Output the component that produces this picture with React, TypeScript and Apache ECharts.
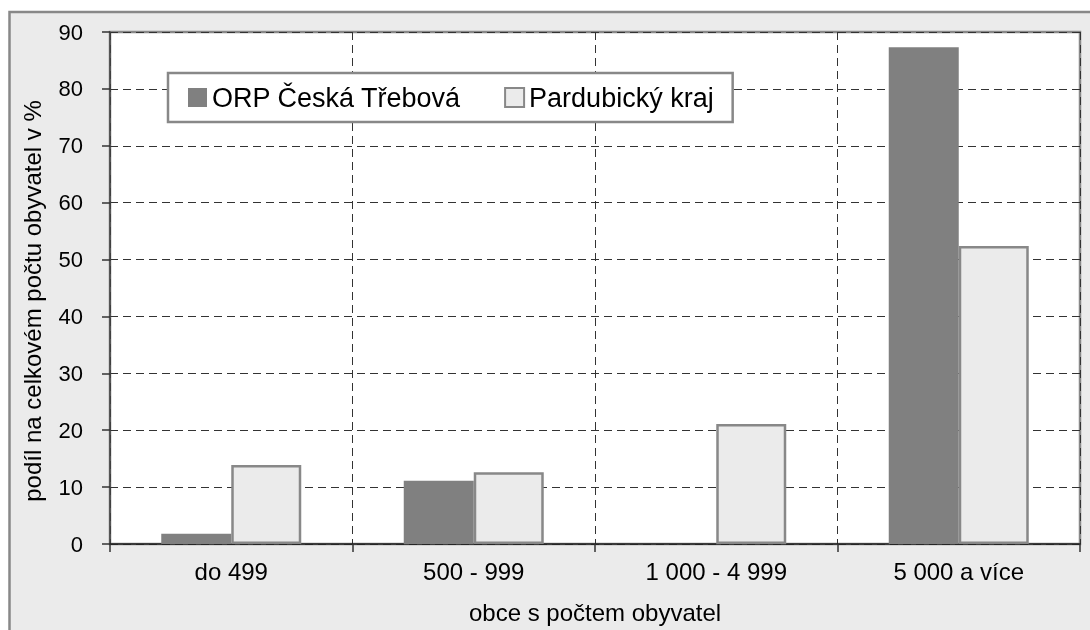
import React, { useEffect, useRef } from "react";
import * as echarts from "echarts";

const categories = ["do 499", "500 - 999", "1 000 - 4 999", "5 000 a více"];
const seriesNames = ["ORP Česká Třebová", "Pardubický kraj"];
const orpValues = [1.8, 11.1, 0, 87.3];
const krajValues = [13.9, 12.6, 21.1, 52.4];
const yMin = 0;
const yMax = 90;
const yInterval = 10;
const xAxisName = "obce s počtem obyvatel";
const yAxisName = "podíl na celkovém počtu obyvatel v %";

const FONT = "'Liberation Sans', Arial, sans-serif";

export default function App() {
  const ref = useRef<HTMLDivElement>(null);
  useEffect(() => {
    if (!ref.current) return;
    const chart = echarts.init(ref.current, null, { renderer: "svg" });
    chart.setOption({
      animation: false,
      textStyle: { fontFamily: FONT, color: "#000" },
      graphic: [
        {
          type: "rect",
          z: -10,
          silent: true,
          shape: { x: 9.5, y: 12, width: 1200, height: 700 },
          style: { fill: "#ebebeb", stroke: "#888888", lineWidth: 2.5 },
        },
      ],
      legend: {
        left: 168,
        top: 73,
        orient: "horizontal",
        backgroundColor: "#ffffff",
        borderColor: "#888888",
        borderWidth: 2.5,
        borderRadius: 0,
        padding: [11, 19, 11, 20],
        itemGap: 43,
        itemWidth: 19,
        itemHeight: 19,
        icon: "rect",
        textStyle: { fontFamily: FONT, fontSize: 27, color: "#000" },
        data: seriesNames,
      },
      grid: {
        left: 110,
        top: 32,
        right: 10,
        bottom: 86,
        show: true,
        backgroundColor: "#ffffff",
        borderColor: "#888888",
        borderWidth: 2.5,
        containLabel: false,
      },
      xAxis: {
        type: "category",
        data: categories,
        name: xAxisName,
        nameLocation: "middle",
        nameGap: 56,
        nameTextStyle: { fontFamily: FONT, fontSize: 24, color: "#000" },
        axisLine: { show: true, lineStyle: { color: "#222222", width: 1.5 } },
        axisTick: { show: true, length: 8, inside: false, lineStyle: { color: "#333333", width: 1.5 } },
        axisLabel: { fontFamily: FONT, fontSize: 24, color: "#000", margin: 15 },
        splitLine: { show: true, lineStyle: { color: "#333333", type: [8, 5], width: 1 } },
      },
      yAxis: {
        type: "value",
        min: yMin,
        max: yMax,
        interval: yInterval,
        name: yAxisName,
        nameLocation: "middle",
        nameGap: 66,
        nameTextStyle: { fontFamily: FONT, fontSize: 24, color: "#000", padding: [0, 26, 0, 0] },
        axisLine: { show: true, lineStyle: { color: "#444444", width: 1.5 } },
        axisTick: { show: true, length: 8, inside: false, lineStyle: { color: "#333333", width: 1.5 } },
        axisLabel: { fontFamily: FONT, fontSize: 22, color: "#000", margin: 27 },
        splitLine: { show: true, lineStyle: { color: "#333333", type: [8, 5], width: 1 } },
      },
      series: [
        {
          name: seriesNames[0],
          type: "bar",
          data: orpValues,
          barWidth: 70,
          barGap: "0%",
          itemStyle: { color: "#808080", borderColor: "#808080", borderWidth: 0 },
        },
        {
          name: seriesNames[1],
          type: "bar",
          data: krajValues,
          barWidth: 70,
          barGap: "0%",
          itemStyle: { color: "#ebebeb", borderColor: "#888888", borderWidth: 2.5 },
        },
      ],
    });
    return () => chart.dispose();
  }, []);
  return (
    <div
      ref={ref}
      style={{ position: "fixed", left: 0, top: 0, width: 1090, height: 630 }}
    />
  );
}
